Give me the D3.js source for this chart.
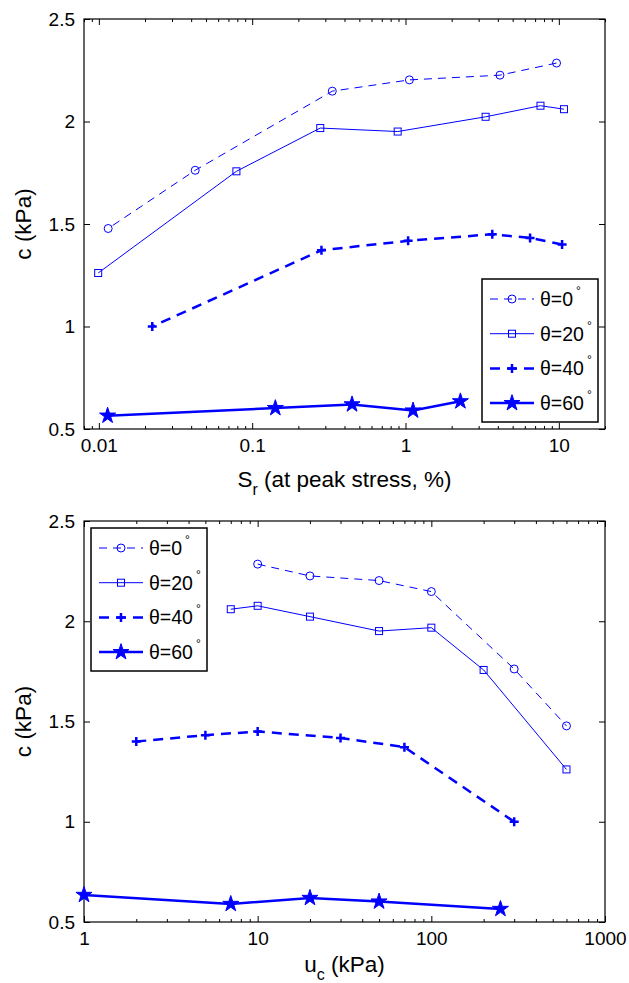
<!DOCTYPE html>
<html>
<head>
<meta charset="utf-8"/>
<title>c vs Sr and uc</title>
<style>
body {margin: 0; background: #fff}
svg text {font-family: "Liberation Sans", Arial, sans-serif; fill: #000}
</style>
</head>
<body>
<div id="my_dataviz"></div>
<script src="https://d3js.org/d3.v7.min.js"></script>
<script>

// legend names (theta in degrees) and tick labels
var seriesNames = ["0", "20", "40", "60"]
var yTicks = [0.5, 1, 1.5, 2, 2.5]
var yTickLabels = ["0.5", "1", "1.5", "2", "2.5"]
var srTicks = [0.01, 0.1, 1, 10]
var srTickLabels = ["0.01", "0.1", "1", "10"]
var ucTicks = [1, 10, 100, 1000]
var ucTickLabels = ["1", "10", "100", "1000"]

// theta = 0
var uc0 = [10, 20, 50, 100, 300, 600]
var sr0 = [9.66, 4.13, 1.06, 0.333, 0.0425, 0.0115]
var c0  = [2.285, 2.226, 2.203, 2.148, 1.762, 1.478]
// theta = 20
var uc20 = [7, 10, 20, 50, 100, 200, 600]
var sr20 = [10.8, 7.59, 3.33, 0.889, 0.278, 0.0789, 0.0099]
var c20  = [2.06, 2.077, 2.023, 1.951, 1.968, 1.757, 1.261]
// theta = 40
var uc40 = [2, 5, 10, 30, 70, 300]
var sr40 = [10.5, 6.49, 3.68, 1.04, 0.283, 0.0223]
var c40  = [1.40, 1.432, 1.45, 1.418, 1.372, 1.0]
// theta = 60
var uc60 = [1, 7, 20, 50, 250]
var sr60 = [2.28, 1.12, 0.448, 0.1416, 0.0114]
var c60  = [0.635, 0.59, 0.62, 0.602, 0.565]

var width = 629, height = 983
var left = 84, right = 605
var blue = "#0000ff"

// line / marker style per series
var styles = [
  {dash: "8,6", w: 1, marker: "circle"},
  {dash: null, w: 1, marker: "square"},
  {dash: "10,7", w: 2.5, marker: "plus"},
  {dash: null, w: 2.5, marker: "star"}
]

var svg = d3.select("#my_dataviz")
  .append("svg")
    .attr("width", width)
    .attr("height", height)

function drawMarker(g, type, x, y) {
  if (type == "circle") {
    g.append("circle").attr("cx", x).attr("cy", y).attr("r", 4)
      .attr("fill", "none").attr("stroke", blue).attr("stroke-width", 1)
  } else if (type == "square") {
    g.append("rect").attr("x", x - 3.5).attr("y", y - 3.5).attr("width", 7).attr("height", 7)
      .attr("fill", "none").attr("stroke", blue).attr("stroke-width", 1)
  } else if (type == "plus") {
    g.append("path").attr("d", "M" + (x - 4.5) + "," + y + "H" + (x + 4.5) + "M" + x + "," + (y - 4.5) + "V" + (y + 4.5))
      .attr("stroke", blue).attr("stroke-width", 2.5)
  } else {
    g.append("path").attr("d", d3.symbol().type(d3.symbolStar).size(80)())
      .attr("transform", "translate(" + x + "," + y + ")")
      .attr("fill", blue).attr("stroke", blue).attr("stroke-width", 1)
  }
}

function styleAxis(sel) {
  sel.select(".domain").remove()
  sel.attr("font-size", 19).attr("font-family", "Liberation Sans, Arial, sans-serif")
}

function makePanel(top, bottom, xDomain, xTicks, xTickLabels, xVals, legX, legY, sub, rest, labelY) {
  var x = d3.scaleLog().domain(xDomain).range([left, right])
  var y = d3.scaleLinear().domain([0.5, 2.5]).range([bottom, top])
  var g = svg.append("g")

  // minor log ticks
  var minor = []
  var e0 = Math.floor(Math.log10(xDomain[0])), e1 = Math.ceil(Math.log10(xDomain[1]))
  for (var e = e0; e < e1; e++) {
    for (var k = 2; k <= 9; k++) {
      var v = k * Math.pow(10, e)
      if (v >= xDomain[0] * 0.999 && v <= xDomain[1] * 1.001) minor.push(v)
    }
  }
  g.append("g").attr("transform", "translate(0," + bottom + ")")
    .call(d3.axisBottom(x).tickValues(minor).tickSize(-3).tickFormat(""))
    .call(styleAxis)
  g.append("g").attr("transform", "translate(0," + top + ")")
    .call(d3.axisTop(x).tickValues(minor).tickSize(-3).tickFormat(""))
    .call(styleAxis)

  // major ticks
  g.append("g").attr("transform", "translate(0," + bottom + ")")
    .call(d3.axisBottom(x).tickValues(xTicks).tickSize(-6).tickPadding(10)
      .tickFormat(function(d, i) { return xTickLabels[i] }))
    .call(styleAxis)
  g.append("g").attr("transform", "translate(0," + top + ")")
    .call(d3.axisTop(x).tickValues(xTicks).tickSize(-6).tickFormat(""))
    .call(styleAxis)
  g.append("g").attr("transform", "translate(" + left + ",0)")
    .call(d3.axisLeft(y).tickValues(yTicks).tickSize(-6).tickPadding(9)
      .tickFormat(function(d, i) { return yTickLabels[i] }))
    .call(styleAxis)
  g.append("g").attr("transform", "translate(" + right + ",0)")
    .call(d3.axisRight(y).tickValues(yTicks).tickSize(-6).tickFormat(""))
    .call(styleAxis)

  // frame
  g.append("rect")
    .attr("x", left).attr("y", top)
    .attr("width", right - left).attr("height", bottom - top)
    .attr("fill", "none").attr("stroke", "#000").attr("stroke-width", 1.2)

  // series
  var cVals = [c0, c20, c40, c60]
  var line = d3.line().x(function(d) { return x(d[0]) }).y(function(d) { return y(d[1]) })
  for (var i = 0; i < 4; i++) {
    var pts = d3.zip(xVals[i], cVals[i])
    g.append("path")
      .datum(pts)
      .attr("d", line)
      .attr("fill", "none")
      .attr("stroke", blue)
      .attr("stroke-width", styles[i].w)
      .attr("stroke-dasharray", styles[i].dash)
    pts.forEach(function(p) { drawMarker(g, styles[i].marker, x(p[0]), y(p[1])) })
  }

  // legend
  var lg = g.append("g")
  lg.append("rect")
    .attr("x", legX).attr("y", legY).attr("width", 116).attr("height", 143)
    .attr("fill", "#fff").attr("stroke", "#000").attr("stroke-width", 1.5)
  for (var j = 0; j < 4; j++) {
    var ry = legY + 20 + j * 34.7
    lg.append("line")
      .attr("x1", legX + 8).attr("x2", legX + 52).attr("y1", ry).attr("y2", ry)
      .attr("stroke", blue).attr("stroke-width", styles[j].w)
      .attr("stroke-dasharray", styles[j].dash)
    drawMarker(lg, styles[j].marker, legX + 30, ry)
    var t = lg.append("text").attr("x", legX + 58).attr("y", ry + 7).attr("font-size", 19.5)
    t.append("tspan").text("θ=" + seriesNames[j])
    t.append("tspan").attr("font-size", 12).attr("dx", 3).attr("dy", -11).text("°")
  }

  // axis labels
  var xl = g.append("text").attr("x", (left + right) / 2).attr("y", labelY)
    .attr("text-anchor", "middle").attr("font-size", 22.5)
  xl.append("tspan").text(sub[0])
  xl.append("tspan").attr("font-size", 16).attr("dy", 8).text(sub[1])
  xl.append("tspan").attr("dy", -8).text(rest)

  g.append("text")
    .attr("transform", "translate(31," + (top + bottom) / 2 + ") rotate(-90)")
    .attr("text-anchor", "middle").attr("font-size", 22.5)
    .text("c (kPa)")
}

makePanel(19, 429, [0.008, 20], srTicks, srTickLabels, [sr0, sr20, sr40, sr60],
  482, 279, ["S", "r"], " (at peak stress, %)", 487)
makePanel(521, 922, [1, 1000], ucTicks, ucTickLabels, [uc0, uc20, uc40, uc60],
  91, 528, ["u", "c"], " (kPa)", 972)

</script>
</body>
</html>
